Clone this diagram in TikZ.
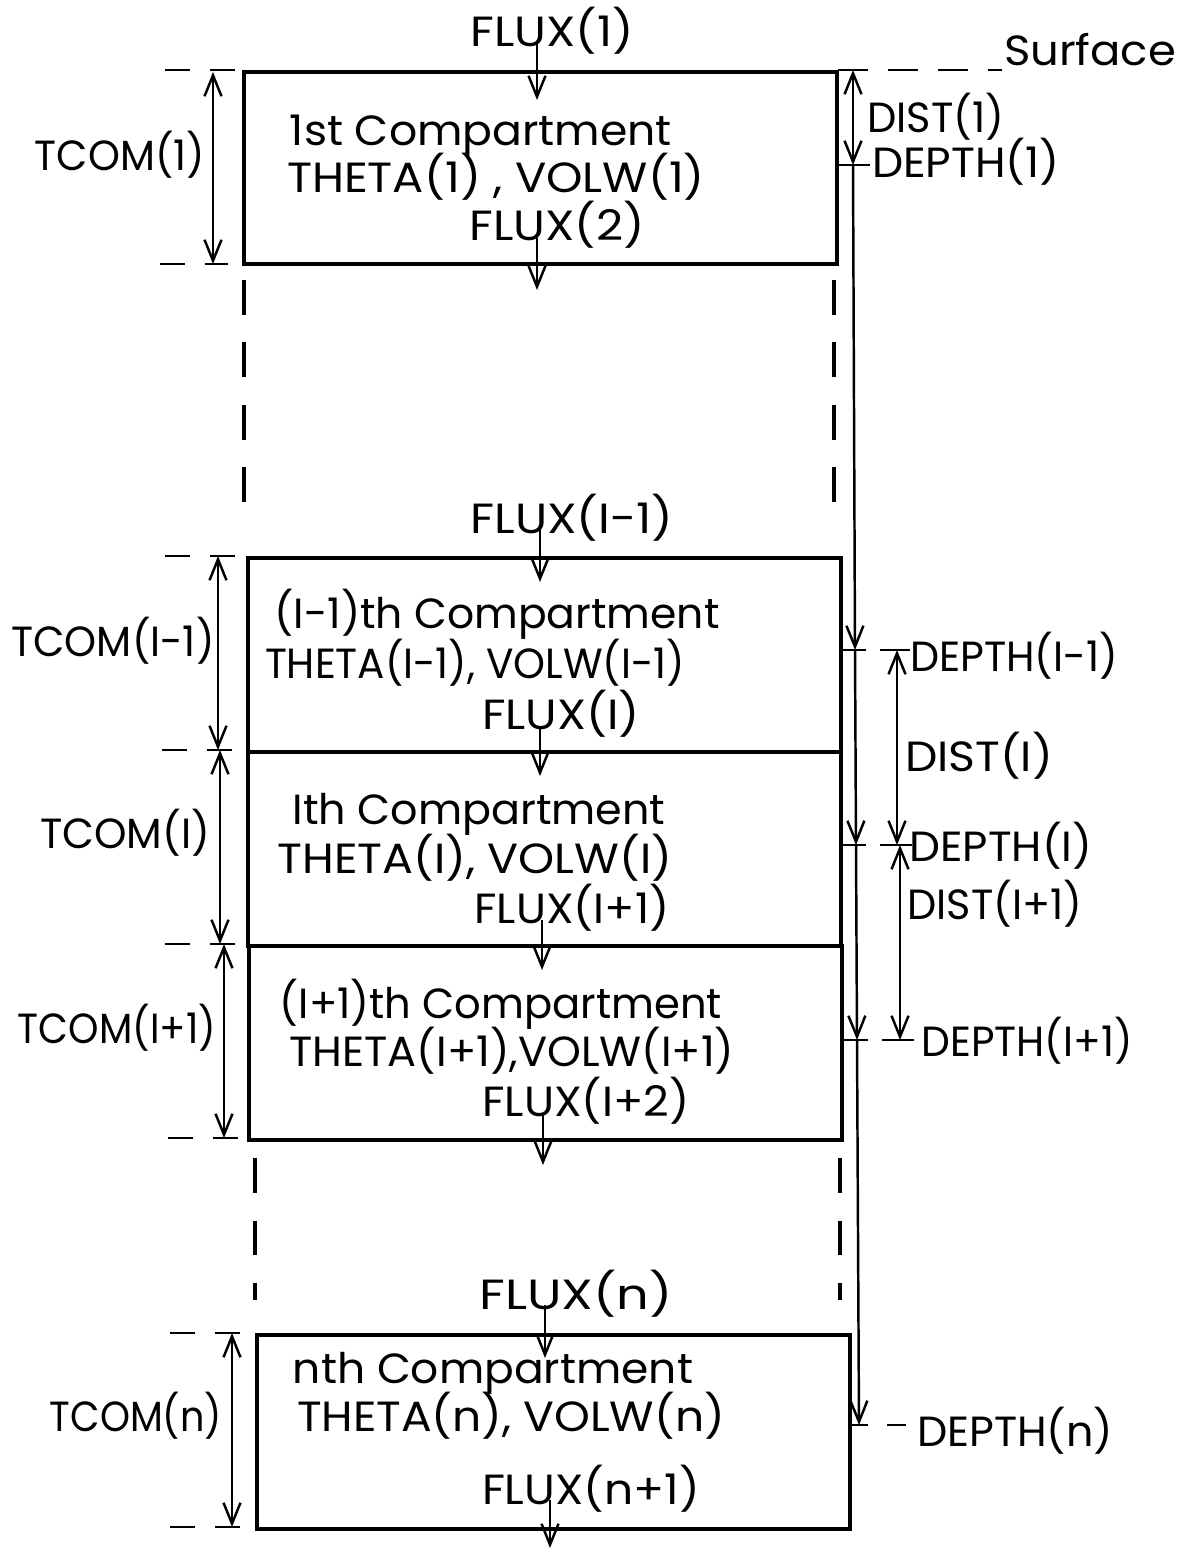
\documentclass[tikz,border=0pt]{standalone}
\usepackage{fontspec}
\setmainfont{Poppins}
\usetikzlibrary{arrows.meta}
\newlength\unitpx \setlength\unitpx{0.02cm}
\newcommand{\fw}[2]{\resizebox{#1\unitpx}{\height}{#2}}
\begin{document}
\begin{tikzpicture}[x=0.02cm,y=-0.02cm,
  >={Straight Barb[length=0.42cm,width=0.34cm]},
  box/.style={draw,line width=2pt,minimum width=593\unitpx,minimum height=194\unitpx,inner sep=0pt,anchor=north west},
  lbl/.style={anchor=base,inner sep=0pt,font=\fontsize{24}{28}\selectfont},
  dimline/.style={line width=1.4pt,<->},
  flow/.style={line width=1.4pt,->},
  oneway/.style={line width=1.4pt,->},
  tick/.style={line width=1.6pt},
  ltick/.style={line width=1.6pt,dash pattern=on 0.5cm off 0.4cm},
  cont/.style={line width=2pt,dash pattern=on 0.7cm off 0.55cm},
  surf/.style={line width=1.6pt,dash pattern=on 0.6cm off 0.4cm}]
\useasboundingbox (0,0) rectangle (1194,1550);

% boxes
\node[box,minimum height=192\unitpx] (b1) at (242,70) {};
\node[box] (bA) at (246,556) {};
\node[box] (bB) at (246,750) {};
\node[box] (bC) at (247,944) {};
\node[box] (bn) at (255,1333) {};

% continuation dashes
\coordinate (dL1) at (244,280); \coordinate (dL2) at (244,522);
\coordinate (dR1) at (834,280); \coordinate (dR2) at (834,522);
\coordinate (dL3) at (255,1158); \coordinate (dL4) at (255,1300);
\coordinate (dR3) at (840,1158); \coordinate (dR4) at (840,1300);
\draw[cont] (dL1) -- (dL2);
\draw[cont] (dR1) -- (dR2);
\draw[cont] (dL3) -- (dL4);
\draw[cont] (dR3) -- (dR4);

% texts in and around boxes
\node[lbl] (flux1) at (552,47) {\fw{163}{FLUX(1)}};
\node[lbl] (surface) at (1090,66) {\fw{172}{Surface}};
\node[lbl] (c1a) at (481,146) {\fw{382}{1st Compartment}};
\node[lbl] (c1b) at (496,193) {\fw{418}{THETA(1) , VOLW(1)}};
\node[lbl] (c1c) at (557,241) {\fw{175}{FLUX(2)}};
\node[lbl] (tcom1) at (120,171) {\fw{170}{TCOM(1)}};
\node[lbl] (dist1) at (936,133) {\fw{137}{DIST(1)}};
\node[lbl] (depth1) at (966,178) {\fw{188}{DEPTH(1)}};

\node[lbl] (fluxA) at (572,533) {\fw{203}{FLUX(I-1)}};
\node[lbl] (cAa) at (497,628) {\fw{445}{(I-1)th Compartment}};
\node[lbl] (cAb) at (475,678) {\fw{420}{THETA(I-1), VOLW(I-1)}};
\node[lbl] (cAc) at (561,729) {\fw{158}{FLUX(I)}};
\node[lbl] (tcomA) at (113,656) {\fw{203}{TCOM(I-1)}};
\node[lbl] (depthA) at (1014,671) {\fw{208}{DEPTH(I-1)}};
\node[lbl] (distA) at (979,771) {\fw{148}{DIST(I)}};

\node[lbl] (cBa) at (479,824) {\fw{373}{Ith Compartment}};
\node[lbl] (cBb) at (475,873) {\fw{395}{THETA(I), VOLW(I)}};
\node[lbl] (cBc) at (572,923) {\fw{195}{FLUX(I+1)}};
\node[lbl] (tcomB) at (125,848) {\fw{170}{TCOM(I)}};
\node[lbl] (depthB) at (1001,861) {\fw{183}{DEPTH(I)}};
\node[lbl] (distB) at (995,919) {\fw{175}{DIST(I+1)}};

\node[lbl] (cCa) at (501,1018) {\fw{442}{(I+1)th Compartment}};
\node[lbl] (cCb) at (512,1066) {\fw{445}{THETA(I+1),VOLW(I+1)}};
\node[lbl] (cCc) at (586,1116) {\fw{207}{FLUX(I+2)}};
\node[lbl] (tcomC) at (117,1043) {\fw{198}{TCOM(I+1)}};
\node[lbl] (depthC) at (1027,1056) {\fw{211}{DEPTH(I+1)}};

\node[lbl] (fluxn) at (576,1309) {\fw{193}{FLUX(n)}};
\node[lbl] (cna) at (493,1383) {\fw{400}{nth Compartment}};
\node[lbl] (cnb) at (511,1431) {\fw{428}{THETA(n), VOLW(n)}};
\node[lbl] (cnc) at (591,1504) {\fw{218}{FLUX(n+1)}};
\node[lbl] (tcomn) at (136,1431) {\fw{172}{TCOM(n)}};
\node[lbl] (depthn) at (1015,1446) {\fw{196}{DEPTH(n)}};

% flux arrows
\coordinate (a1s) at (537,44); \coordinate (a1e) at (537,100);
\coordinate (a2s) at (537,238); \coordinate (a2e) at (537,290);
\coordinate (aAs) at (540,530); \coordinate (aAe) at (540,582);
\coordinate (aBs) at (540,726); \coordinate (aBe) at (540,776);
\coordinate (aCs) at (542,920); \coordinate (aCe) at (542,970);
\coordinate (aDs) at (543,1114); \coordinate (aDe) at (543,1165);
\coordinate (aNs) at (545,1305); \coordinate (aNe) at (545,1358);
\coordinate (aMs) at (550,1500); \coordinate (aMe) at (550,1548);
\draw[flow] (a1s) -- (a1e);
\draw[flow] (a2s) -- (a2e);
\draw[flow] (aAs) -- (aAe);
\draw[flow] (aBs) -- (aBe);
\draw[flow] (aCs) -- (aCe);
\draw[flow] (aDs) -- (aDe);
\draw[flow] (aNs) -- (aNe);
\draw[flow] (aMs) -- (aMe);

% left ticks
\coordinate (lt1a) at (165,70); \coordinate (lt1b) at (242,70);
\coordinate (lt2a) at (160,264); \coordinate (lt2b) at (228,264);
\coordinate (lt3a) at (165,556); \coordinate (lt3b) at (246,556);
\coordinate (lt4a) at (162,750); \coordinate (lt4b) at (246,750);
\coordinate (lt5a) at (165,944); \coordinate (lt5b) at (247,944);
\coordinate (lt6a) at (168,1138); \coordinate (lt6b) at (247,1138);
\coordinate (lt7a) at (170,1333); \coordinate (lt7b) at (255,1333);
\coordinate (lt8a) at (170,1527); \coordinate (lt8b) at (255,1527);
\foreach \p in {1,...,8} {\draw[ltick] (lt\p a) -- (lt\p b);}

% TCOM dimension lines
\coordinate (t1a) at (213,72); \coordinate (t1b) at (213,264);
\coordinate (tAa) at (218,556); \coordinate (tAb) at (218,750);
\coordinate (tBa) at (220,750); \coordinate (tBb) at (220,944);
\coordinate (tCa) at (224,944); \coordinate (tCb) at (224,1138);
\coordinate (tna) at (232,1333); \coordinate (tnb) at (232,1527);
\draw[dimline] (t1a) -- (t1b);
\draw[dimline] (tAa) -- (tAb);
\draw[dimline] (tBa) -- (tBb);
\draw[dimline] (tCa) -- (tCb);
\draw[dimline] (tna) -- (tnb);

% surface line
\coordinate (s1) at (838,70); \coordinate (s2) at (1002,70);
\draw[surf] (s1) -- (s2);

% right depth line
\coordinate (r0) at (853,70);
\coordinate (r1) at (853,165);
\coordinate (rA) at (855,650);
\coordinate (rB) at (856,845);
\coordinate (rC) at (857,1040);
\coordinate (rN) at (859,1425);
\draw[dimline] (r0) -- (r1);
\draw[oneway] (r1) -- (rA);
\draw[oneway] (rA) -- (rB);
\draw[oneway] (rB) -- (rC);
\draw[oneway] (rC) -- (rN);

% right ticks at box edge
\coordinate (q1a) at (835,165); \coordinate (q1b) at (870,165);
\coordinate (qAa) at (839,650); \coordinate (qAb) at (866,650);
\coordinate (qBa) at (839,845); \coordinate (qBb) at (866,845);
\coordinate (qCa) at (840,1040); \coordinate (qCb) at (868,1040);
\coordinate (qNa) at (848,1425); \coordinate (qNb) at (868,1425);
\draw[tick] (q1a) -- (q1b);
\draw[tick] (qAa) -- (qAb);
\draw[tick] (qBa) -- (qBb);
\draw[tick] (qCa) -- (qCb);
\draw[tick] (qNa) -- (qNb);

% second column ticks and DIST lines
\coordinate (pAa) at (880,650); \coordinate (pAb) at (910,650);
\coordinate (pBa) at (880,845); \coordinate (pBb) at (912,845);
\coordinate (pCa) at (882,1040); \coordinate (pCb) at (914,1040);
\coordinate (pNa) at (887,1425); \coordinate (pNb) at (906,1425);
\draw[tick] (pAa) -- (pAb);
\draw[tick] (pBa) -- (pBb);
\draw[tick] (pCa) -- (pCb);
\draw[tick] (pNa) -- (pNb);
\coordinate (dIa) at (897,650); \coordinate (dIb) at (897,845);
\coordinate (dJa) at (900,845); \coordinate (dJb) at (900,1040);
\draw[dimline] (dIa) -- (dIb);
\draw[dimline] (dJa) -- (dJb);
\end{tikzpicture}
\end{document}
